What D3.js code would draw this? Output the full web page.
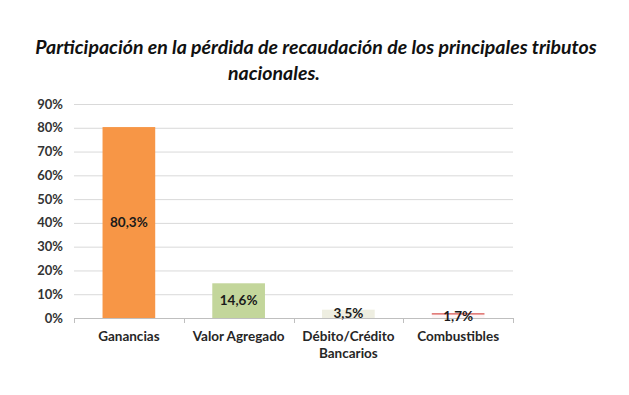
<!DOCTYPE html>
<html><head><meta charset="utf-8">
<script src="https://cdn.jsdelivr.net/npm/d3@7"></script>
<style>body{margin:0;background:#fff}svg{display:block}</style>
</head><body>
<svg id="c" width="629" height="395"></svg>
<script>
const categories = ["Ganancias", "Valor Agregado", "Débito/Crédito|Bancarios", "Combustibles"];
const values = [80.3, 14.6, 3.5, 1.7];
const valueLabels = ["80,3%", "14,6%", "3,5%", "1,7%"];
const yTicks = [0, 10, 20, 30, 40, 50, 60, 70, 80, 90];
const titleLines = ["Participación en la pérdida de recaudación de los principales tributos", "nacionales."];
const colors = ["#F79646", "#C3D69B", "#EEEEE1", "#FDF6F6"];

const svg = d3.select("#c");
const m = {l: 74, r: 116, t: 104, b: 77};
const W = 629, H = 395;
const x = d3.scaleBand().domain(d3.range(categories.length)).range([m.l, W - m.r]).paddingInner(0.52).paddingOuter(0.26);
const y = d3.scaleLinear().domain([0, 90]).range([H - m.b, m.t]);
const font = "Lato, 'Open Sans', sans-serif";

// gridlines
svg.append("g").selectAll("line").data(yTicks.filter(d => d > 0)).join("line")
  .attr("x1", m.l).attr("x2", W - m.r)
  .attr("y1", d => y(d) + 0.5).attr("y2", d => y(d) + 0.5)
  .attr("stroke", "#d9d9d9").attr("stroke-width", 1);

// y labels
svg.append("g").selectAll("text").data(yTicks).join("text")
  .attr("x", 63).attr("y", d => y(d)).attr("dy", "0.35em")
  .attr("text-anchor", "end").attr("font-family", font).attr("font-weight", 700)
  .attr("font-size", 13).attr("fill", "#333").text(d => d + "%");

// bars
svg.append("g").selectAll("rect").data(values).join("rect")
  .attr("x", (d, i) => x(i)).attr("width", x.bandwidth())
  .attr("y", d => y(d)).attr("height", d => y(0) - y(d))
  .attr("fill", (d, i) => colors[i]);

// red top line on combustibles bar
svg.append("line")
  .attr("x1", x(3)).attr("x2", x(3) + x.bandwidth())
  .attr("y1", y(values[3])).attr("y2", y(values[3]))
  .attr("stroke", "#D9534F").attr("stroke-width", 1.3);

// x axis
const axis = svg.append("g");
axis.append("line").attr("x1", m.l).attr("x2", W - m.r).attr("y1", y(0) + 0.5).attr("y2", y(0) + 0.5)
  .attr("stroke", "#bfbfbf");
const bounds = d3.range(categories.length + 1).map(i => m.l + (W - m.r - m.l) * i / categories.length);
axis.selectAll("line.t").data(bounds).join("line").attr("class", "t")
  .attr("x1", d => Math.round(d) + 0.5).attr("x2", d => Math.round(d) + 0.5)
  .attr("y1", y(0)).attr("y2", y(0) + 5).attr("stroke", "#bfbfbf");

// category labels
categories.forEach((c, i) => {
  const t = svg.append("text").attr("text-anchor", "middle").attr("font-family", font)
    .attr("font-weight", 700).attr("font-size", 13.5).attr("fill", "#262626");
  c.split("|").forEach((ln, k) => {
    t.append("tspan").attr("x", x(i) + x.bandwidth() / 2).attr("y", 341 + k * 17).text(ln);
  });
});

// value labels
svg.append("g").selectAll("text").data(values).join("text")
  .attr("x", (d, i) => x(i) + x.bandwidth() / 2)
  .attr("y", (d, i) => i < 2 ? (y(d) + y(0)) / 2 : (i === 2 ? y(d) + 4 : y(d) + 2))
  .attr("dy", "0.35em").attr("text-anchor", "middle").attr("font-family", font)
  .attr("font-weight", 700).attr("font-size", 13.5).attr("fill", "#1a1a1a")
  .text((d, i) => valueLabels[i]);

// title
const tt = svg.append("text").attr("font-family", font).attr("font-weight", 700)
  .attr("font-style", "italic").attr("font-size", 19.5).attr("fill", "#111");
tt.append("tspan").attr("x", 316).attr("y", 54).attr("text-anchor", "middle").text(titleLines[0]);
tt.append("tspan").attr("x", 274).attr("y", 80).attr("text-anchor", "middle").text(titleLines[1]);
</script>
</body></html>
